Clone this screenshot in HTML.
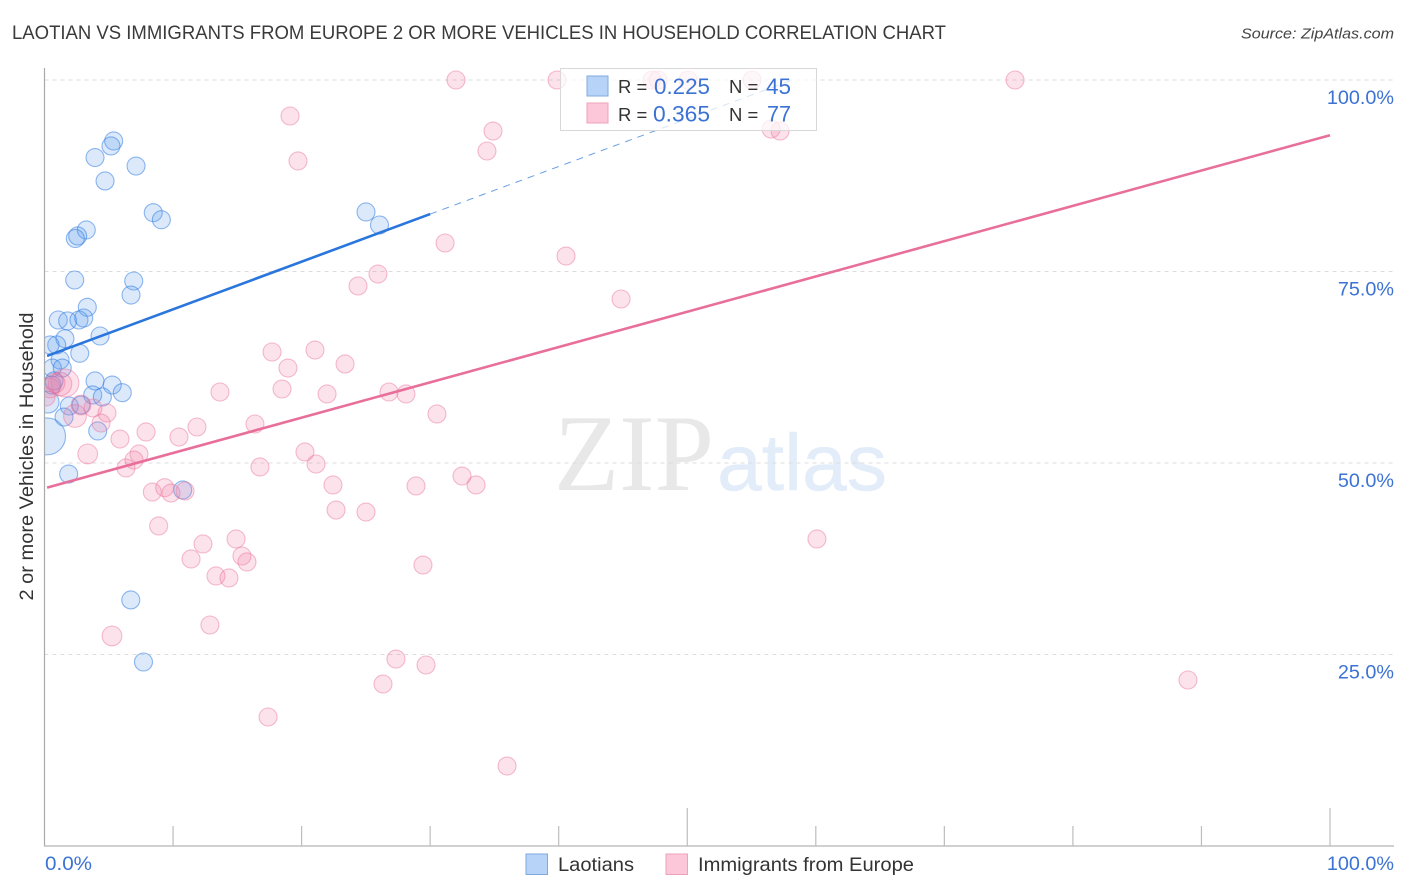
<!DOCTYPE html>
<html lang="en">
<head>
<meta charset="utf-8">
<title>Laotian vs Immigrants from Europe 2 or more Vehicles in Household Correlation Chart</title>
<style>
html,body{margin:0;padding:0;background:#fff;width:1406px;height:892px;overflow:hidden}
svg{display:block;font-family:"Liberation Sans",sans-serif}
</style>
</head>
<body>
<svg id="chart" xmlns="http://www.w3.org/2000/svg" width="1406" height="892" viewBox="0 0 1406 892">
  <defs>
    <clipPath id="plot-clip"><rect x="45" y="60" width="1349" height="786"/></clipPath>
  </defs>
  <rect x="0" y="0" width="1406" height="892" fill="#fff"/>
  <text x="12" y="39" font-size="19" fill="#3a3a3a" textLength="934" lengthAdjust="spacingAndGlyphs">LAOTIAN VS IMMIGRANTS FROM EUROPE 2 OR MORE VEHICLES IN HOUSEHOLD CORRELATION CHART</text>
  <text x="1394" y="38.5" font-size="15" font-style="italic" fill="#444" text-anchor="end" textLength="153" lengthAdjust="spacingAndGlyphs">Source: ZipAtlas.com</text>
  <g>
    <text x="554" y="490" font-family="'Liberation Serif',serif" font-size="109" fill="#e8e8e8" textLength="160" lengthAdjust="spacingAndGlyphs">ZIP</text>
    <text x="717" y="490" font-size="80" fill="#e3edfa" stroke="#e3edfa" stroke-width="0.5" textLength="170" lengthAdjust="spacingAndGlyphs">atlas</text>
  </g>
  <g id="grid"></g>
  <g id="blue-points" clip-path="url(#plot-clip)"></g>
  <g id="pink-points" clip-path="url(#plot-clip)"></g>
  <g id="axes"></g>
  <g id="trends"></g>
  <g id="tick-labels"></g>
  <text transform="translate(33,456.5) rotate(-90)" font-size="19.5" fill="#333" text-anchor="middle" textLength="288" lengthAdjust="spacingAndGlyphs">2 or more Vehicles in Household</text>
  <g>
    <rect x="560.5" y="68.5" width="256" height="62" fill="#fff" fill-opacity="0.72" stroke="#d8d8d8" stroke-width="1"/>
    <rect x="587" y="76" width="21" height="20" fill="#b7d3f7" stroke="#7fa9dc" stroke-width="1"/>
    <rect x="587" y="103" width="21" height="20" fill="#fcc7d8" stroke="#efa0bb" stroke-width="1"/>
    <text x="618" y="93" font-size="18.5" fill="#333">R =</text>
    <text x="654" y="94" font-size="22" fill="#3b72d3" textLength="56" lengthAdjust="spacingAndGlyphs">0.225</text>
    <text x="729" y="93" font-size="18.5" fill="#333">N =</text>
    <text x="766" y="94" font-size="22" fill="#3b72d3" textLength="25" lengthAdjust="spacingAndGlyphs">45</text>
    <text x="618" y="121" font-size="18.5" fill="#333">R =</text>
    <text x="653" y="121.5" font-size="22" fill="#3b72d3" textLength="57" lengthAdjust="spacingAndGlyphs">0.365</text>
    <text x="729" y="121" font-size="18.5" fill="#333">N =</text>
    <text x="767" y="121.5" font-size="22" fill="#3b72d3" textLength="24" lengthAdjust="spacingAndGlyphs">77</text>
  </g>
  <g>
    <rect x="526" y="854" width="21.5" height="20.5" fill="#b7d3f7" stroke="#7fa9dc" stroke-width="1"/>
    <text x="558" y="871" font-size="19.5" fill="#333" textLength="76" lengthAdjust="spacingAndGlyphs">Laotians</text>
    <rect x="666" y="854" width="21.5" height="20.5" fill="#fcc7d8" stroke="#efa0bb" stroke-width="1"/>
    <text x="698" y="871" font-size="19.5" fill="#333" textLength="216" lengthAdjust="spacingAndGlyphs">Immigrants from Europe</text>
  </g>
</svg>
<script>
const blueX = [5.38,5.17,3.93,7.12,4.71,8.46,9.09,3.25,2.58,2.40,2.35,6.94,6.73,3.33,1.07,1.80,2.68,3.05,1.59,4.32,0.95,0.43,2.74,1.21,0.61,1.38,0.74,3.93,5.27,3.75,4.50,6.05,0.27,1.93,2.84,1.52,4.14,0.2,1.88,10.75,6.71,7.70,25.01,26.06,0.58];
const blueY = [92.04,91.39,89.88,88.77,86.82,82.68,81.76,80.42,79.64,79.31,73.89,73.76,71.93,70.33,68.67,68.54,68.67,68.93,66.23,66.58,65.41,65.41,64.32,63.45,62.40,62.40,60.71,60.71,60.18,58.88,58.62,59.18,57.96,57.44,57.57,56.0,54.18,53.47,48.56,46.48,32.12,24.02,82.77,81.07,60.18];
const blueWeight = [1,1,1,1,1,1,1,1,1,1,1,1,1,1,1,1,1,1,1,1,1,1,1,1,1,1,1,1,1,1,1,1,1.5,1,1,1,1,4.2,1,1,1,1,1,1,1];
const pinkX = [32.01,39.87,47.26,47.73,50.06,55.04,75.5,56.52,57.22,19.10,19.72,34.89,34.42,31.16,40.57,44.85,25.94,24.39,17.70,18.94,21.04,23.38,18.48,21.98,13.65,26.80,28.12,30.53,16.37,11.86,10.46,7.90,5.87,3.36,20.26,21.12,16.76,7.35,6.96,6.34,9.35,8.39,9.84,10.93,22.44,28.90,32.48,33.57,22.68,25.01,8.88,14.90,12.33,11.40,15.36,15.75,13.34,14.35,29.44,60.09,5.25,12.87,27.34,29.68,26.33,17.39,88.95,35.98,1.59,1.21,0.82,0.43,0.12,2.37,2.84,3.77,4.86,4.40];
const pinkY = [100,100,100,100,100,100,100,93.6,93.34,95.3,89.43,93.34,90.73,78.72,77.02,71.41,74.67,73.11,64.49,62.40,64.75,62.93,59.66,59.01,59.27,59.27,59.01,56.40,55.09,54.70,53.39,54.05,53.13,51.18,51.44,49.87,49.48,51.18,50.39,49.35,46.78,46.21,46.08,46.35,47.13,47.0,48.30,47.13,43.86,43.60,41.78,40.08,39.43,37.47,37.86,37.08,35.25,34.99,36.68,40.08,27.42,28.85,24.41,23.63,21.15,16.84,21.67,10.44,60.44,60.31,60.44,59.79,58.62,56.14,57.57,57.18,56.53,55.22];
const pinkWeight = [1,1,1,1,1,1,1,1,1,1,1,1,1,1,1,1,1,1,1,1,1,1,1,1,1,1,1,1,1,1,1,1,1,1.2,1,1,1,1,1,1,1,1,1,1,1,1,1,1,1,1,1,1,1,1,1,1,1,1,1,1,1.2,1,1,1,1,1,1,1,2.4,1.7,1.2,1.2,1,1.6,1.2,1,1,1];
const blueIntercept = 63.85;
const blueSlope = 0.6215;
const pinkIntercept = 46.7;
const pinkSlope = 0.4609;
const blueSolidEnd = 30;
const blueDashEnd = 58.4;
const pinkEnd = 100;
const yTickValues = [100,75,50,25];
const yTickLabels = ["100.0%","75.0%","50.0%","25.0%"];
const xTickValues = [10,20,30,40,50,60,70,80,90,100];
const xMajorTicks = [50,100];
const xLabelText = ["0.0%","100.0%"];

const NS = 'http://www.w3.org/2000/svg';
const xScale = v => 44.5 + v * 12.855;
const yScale = v => 846 - v * 7.66;
const radiusOf = w => 9 * Math.sqrt(w);

function make(tag, attrs, parentId) {
  const el = document.createElementNS(NS, tag);
  for (const k in attrs) el.setAttribute(k, attrs[k]);
  document.getElementById(parentId).appendChild(el);
  return el;
}

yTickValues.forEach(v => {
  const el = make('line', {x1:44.5, x2:1394, y1:yScale(v), y2:yScale(v), stroke:'#dcdcdc', 'stroke-width':1, 'stroke-dasharray':'4 4'}, 'grid');
  
  
});

const yAxis = make('line', {x1:44.5, x2:44.5, y1:68, y2:846.5, stroke:'#aaa', 'stroke-width':1.2}, 'axes');


const xAxis = make('line', {x1:44, x2:1394, y1:846, y2:846, stroke:'#b4b4b4', 'stroke-width':1.2}, 'axes');


xTickValues.forEach(v => {
  const len = xMajorTicks.includes(v) ? 38 : 20;
  const el = make('line', {x1:xScale(v), x2:xScale(v), y1:846 - len, y2:846, stroke:'#bdbdbd', 'stroke-width':1.2}, 'axes');
  
  
});

function drawPoints(xs, ys, ws, parentId, fill, stroke, name) {
  xs.forEach((x, i) => {
    const el = make('circle', {cx:xScale(x), cy:yScale(ys[i]), r:radiusOf(ws[i]), fill:fill, stroke:stroke, 'stroke-width':1.1}, parentId);
    
    
  });
}
drawPoints(blueX, blueY, blueWeight, 'blue-points', 'rgba(90,155,235,0.22)', 'rgba(45,120,225,0.52)', 'laotians-point');
drawPoints(pinkX, pinkY, pinkWeight, 'pink-points', 'rgba(240,120,160,0.21)', 'rgba(232,110,150,0.45)', 'immigrants-point');

const blueLine = make('line', {x1:xScale(0.2), x2:xScale(blueSolidEnd), y1:yScale(blueIntercept + blueSlope * 0.2), y2:yScale(blueIntercept + blueSlope * blueSolidEnd), stroke:'#2a76dc', 'stroke-width':2.6}, 'trends');


const blueDash = make('line', {x1:xScale(blueSolidEnd), x2:xScale(blueDashEnd), y1:yScale(blueIntercept + blueSlope * blueSolidEnd), y2:yScale(blueIntercept + blueSlope * blueDashEnd), stroke:'#2a76dc', 'stroke-width':1, 'stroke-dasharray':'7 6', 'stroke-opacity':0.7}, 'trends');


const pinkLine = make('line', {x1:xScale(0.2), x2:xScale(pinkEnd), y1:yScale(pinkIntercept + pinkSlope * 0.2), y2:yScale(pinkIntercept + pinkSlope * pinkEnd), stroke:'#e96f9b', 'stroke-width':2.6}, 'trends');



yTickValues.forEach((v, i) => {
  const el = make('text', {x:1394, y:yScale(v) + 24, 'font-size':19.8, fill:'#3b72d3', 'text-anchor':'end'}, 'tick-labels');
  el.textContent = yTickLabels[i];
  
  
});
const xLabelLeft = make('text', {x:45, y:870, 'font-size':19.8, fill:'#3b72d3', textLength:47, lengthAdjust:'spacingAndGlyphs'}, 'tick-labels');
xLabelLeft.textContent = xLabelText[0];


const xLabelRight = make('text', {x:1394, y:870, 'font-size':19.8, fill:'#3b72d3', 'text-anchor':'end'}, 'tick-labels');
xLabelRight.textContent = xLabelText[1];


</script>
</body>
</html>
